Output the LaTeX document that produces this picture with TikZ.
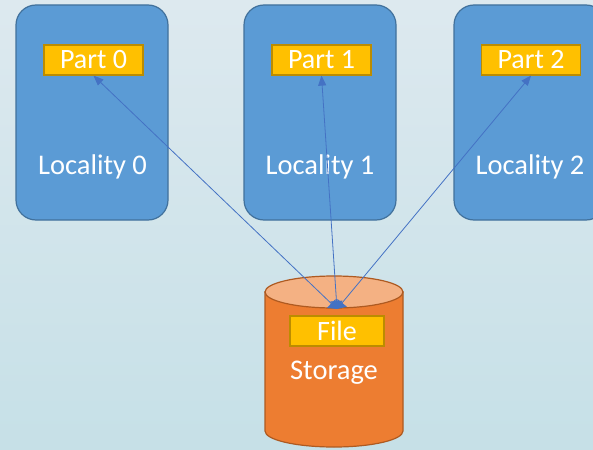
\documentclass[tikz,border=0pt]{standalone}
\usepackage{fontspec}
\setmainfont{Carlito}
\usetikzlibrary{arrows.meta}
\definecolor{bgtop}{RGB}{221,233,239}
\definecolor{bgbot}{RGB}{198,224,231}
\definecolor{locfill}{RGB}{91,155,213}
\definecolor{locline}{RGB}{65,113,156}
\definecolor{partfill}{RGB}{255,192,0}
\definecolor{partline}{RGB}{188,140,0}
\definecolor{cylbody}{RGB}{237,125,49}
\definecolor{cyltop}{RGB}{244,177,131}
\definecolor{cylline}{RGB}{174,90,33}
\definecolor{linkcol}{RGB}{68,114,196}
\tikzset{
  locbox/.style={draw=locline, fill=locfill, line width=1.2pt, rounded corners=20pt,
    minimum width=152pt, minimum height=215pt, inner sep=0pt},
  partbox/.style={draw=partline, fill=partfill, line width=1.2pt,
    minimum width=99pt, minimum height=30pt, inner sep=0pt,
    text=white, font=\fontsize{28}{32}\selectfont},
  whitetext/.style={text=white, font=\fontsize{28.5}{33}\selectfont, inner sep=0pt, anchor=base},
  link/.style={draw=linkcol, line width=0.8pt,
    {Triangle[width=12pt,length=8pt]}-{Triangle[width=8pt,length=10pt]}}
}
\begin{document}
\begin{tikzpicture}[x=1pt, y=-1pt]
  % page and background
  \useasboundingbox (0,0) rectangle (593,449);
  \shade[top color=bgtop, bottom color=bgbot] (0,0) rectangle (593,449);

  \begin{scope}
    \clip (0,0) rectangle (593,449);
    % localities
    \node[locbox] (loc0) at (92,112.5) {};
    \node[locbox] (loc1) at (320,112.5) {};
    \node[locbox] (loc2) at (530,112.5) {};
  \end{scope}
  \node[whitetext] (loc0txt) at (92.5,174) {Locality 0};
  \node[whitetext] (loc1txt) at (320,174) {Locality 1};
  \node[whitetext] (loc2txt) at (530,174) {Locality 2};

  % parts
  \node[partbox] (p0) at (93.5,60) {Part 0};
  \node[partbox] (p1) at (321.5,60) {Part 1};
  \node[partbox] (p2) at (531,60) {Part 2};

  % storage cylinder
  \draw[cylline, line width=1.2pt, fill=cylbody]
    (265,292) -- (265,431) arc[start angle=180, end angle=360, x radius=69, y radius=-16]
    -- (403,292) -- cycle;
  \draw[cylline, line width=1.2pt, fill=cyltop] (334,292) ellipse[x radius=69, y radius=16];
  \node[partbox, minimum width=94pt] (file) at (337,331) {File};
  \node[whitetext] (stor) at (334,379) {Storage};

  % links from the file to each part
  \coordinate (src) at (337,309);
  \draw[link] (src) -- (p0.south);
  \draw[link] (src) -- (p1.south);
  \draw[link] (src) -- (p2.south);
\end{tikzpicture}
\end{document}
